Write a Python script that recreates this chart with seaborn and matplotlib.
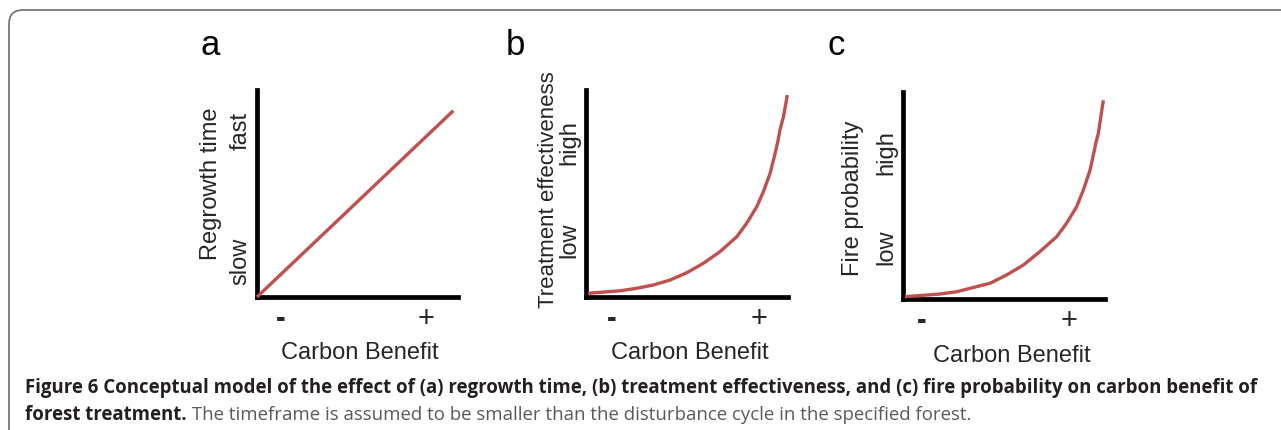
import matplotlib
matplotlib.use("Agg")
import matplotlib.pyplot as plt
from matplotlib.patches import FancyBboxPatch
import seaborn as sns

# panel data (axes go 0..1 both ways)
a_x = [0.0, 0.977]
a_y = [0.0, 0.900]

b_x = [0.011, 0.168, 0.251, 0.333, 0.416, 0.498, 0.581, 0.663, 0.746,
       0.795, 0.845, 0.878, 0.894, 0.911, 0.936, 0.949, 0.960, 0.977,
       0.988, 0.996]
b_y = [0.018, 0.030, 0.042, 0.058, 0.082, 0.117, 0.163, 0.219, 0.291,
       0.356, 0.436, 0.509, 0.552, 0.597, 0.694, 0.750, 0.807, 0.871,
       0.928, 0.976]

c_x = [0.010, 0.183, 0.266, 0.431, 0.513, 0.596, 0.678, 0.761, 0.810,
       0.860, 0.893, 0.909, 0.926, 0.946, 0.955, 0.967, 0.987, 0.992]
c_y = [0.011, 0.024, 0.035, 0.076, 0.116, 0.164, 0.229, 0.301, 0.366,
       0.446, 0.527, 0.573, 0.623, 0.712, 0.755, 0.800, 0.929, 0.960]

panel_letters = ["a", "b", "c"]
y_titles = ["Regrowth time", "Treatment effectiveness", "Fire probability"]
y_ticklabels = [["slow", "fast"], ["low", "high"], ["low", "high"]]
x_ticklabels = ["-", "+"]
x_title = "Carbon Benefit"

caption_bold = ("Figure 6 Conceptual model of the effect of (a) regrowth time, "
                "(b) treatment effectiveness, and (c) fire probability on carbon benefit of")
caption_bold2 = "forest treatment."
caption_rest = " The timeframe is assumed to be smaller than the disturbance cycle in the specified forest."

RED = "#c0504d"

sns.set_style("white")
plt.rcParams["font.family"] = ["Liberation Sans", "DejaVu Sans"]

fig = plt.figure(figsize=(12.81, 4.30), dpi=100)

# background layer in pixel coords: frame + caption
bg = fig.add_axes([0, 0, 1, 1], zorder=-1)
bg.set_xlim(0, 1281)
bg.set_ylim(430, 0)
bg.axis("off")
bg.add_patch(FancyBboxPatch((9, 10), 1400, 600,
                            boxstyle="round,pad=0,rounding_size=14",
                            fc="white", ec="#6d6e71", lw=1.2))
cap_size = 13.45
t1 = bg.text(25, 393, caption_bold, fontsize=cap_size, fontweight="bold",
             family="Open Sans", color="#231f20", va="baseline")
t2 = bg.text(25, 420, caption_bold2, fontsize=cap_size, fontweight="bold",
             family="Open Sans", color="#231f20", va="baseline")
bg.annotate(caption_rest, xy=(1, 420), xycoords=(t2, "data"), fontsize=cap_size,
            family="Open Sans", color="#58595b", va="baseline")

# axes boxes [left, bottom, width, height] in figure fraction
boxes = [[0.2006, 0.3093, 0.1569, 0.4814],
         [0.4575, 0.3093, 0.1577, 0.4814],
         [0.7049, 0.3047, 0.1577, 0.4814]]
xtick_pos = [[0.12, 0.84], [0.129, 0.856], [0.092, 0.82]]
ytick_pos = [[0.17, 0.80], [0.275, 0.746], [0.25, 0.705]]
ylabel_xy = [(-0.174, 0.546), (-0.134, 0.517), (-0.193, 0.488)]
ylabel_size = [17, 16, 17]
xlabel_xy = [(0.51, -0.215), (0.515, -0.215), (0.54, -0.222)]
letter_x = [210, 515, 836]

data = [(a_x, a_y), (b_x, b_y), (c_x, c_y)]

for i, (xs, ys) in enumerate(data):
    ax = fig.add_axes(boxes[i])
    ax.set_facecolor("none")
    sns.lineplot(x=xs, y=ys, ax=ax, color=RED, linewidth=2.4, clip_on=False,
                 solid_joinstyle="round", solid_capstyle="butt")
    ax.set_xlim(0, 1)
    ax.set_ylim(0, 1)
    sns.despine(ax=ax)
    for side in ["left", "bottom"]:
        ax.spines[side].set_linewidth(3.4)
        ax.spines[side].set_color("black")
        ax.spines[side].set_capstyle("projecting")
        ax.spines[side].set_zorder(1)

    ax.set_xticks(xtick_pos[i])
    ax.set_xticklabels(x_ticklabels, fontsize=21)
    ax.get_xticklabels()[0].set_fontweight("bold")
    ax.set_yticks(ytick_pos[i])
    ax.set_yticklabels(y_ticklabels[i], fontsize=17, rotation=90, va="center")
    ax.tick_params(axis="x", length=0, pad=6)
    ax.tick_params(axis="y", length=0, pad=4)

    ax.set_xlabel(x_title, fontsize=17)
    ax.xaxis.set_label_coords(*xlabel_xy[i])
    ax.set_ylabel(y_titles[i], fontsize=ylabel_size[i])
    ax.yaxis.set_label_coords(*ylabel_xy[i])

    bg.text(letter_x[i], 55, panel_letters[i], fontsize=25, ha="center",
            va="baseline", color="black")

fig.savefig("out.png", dpi=100)
